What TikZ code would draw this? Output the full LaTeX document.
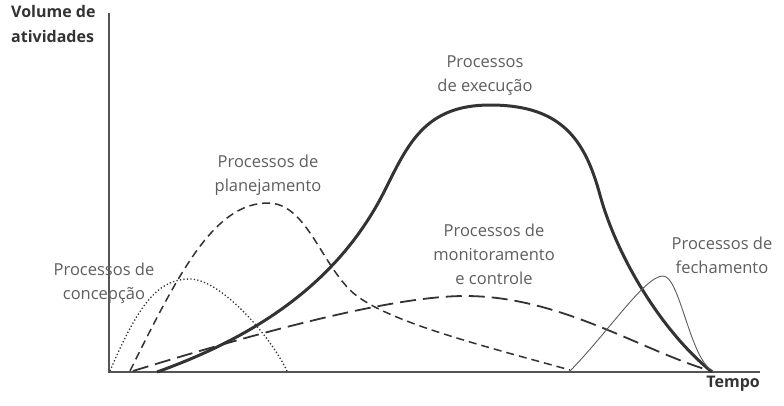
\documentclass[tikz,border=0pt]{standalone}
\usepackage{fontspec}
\setmainfont{Open Sans}
\definecolor{lbl}{HTML}{5E5E5E}
\definecolor{axc}{HTML}{555555}
\definecolor{crv}{HTML}{333333}
\begin{document}
\begin{tikzpicture}[x=1pt,y=-1pt,
  lab/.style={align=center,text=lbl,font=\fontsize{16.5}{24}\selectfont,inner sep=0pt},
  axlab/.style={align=left,text=crv,font=\bfseries\fontsize{16}{25}\selectfont,inner sep=0pt},
  axis/.style={draw=axc,line width=1.2pt},
  exec/.style={draw=crv,line width=3pt},
  plan/.style={draw=crv,line width=1.5pt,dash pattern=on 8pt off 5pt},
  mon/.style={draw=crv,line width=1.8pt,dash pattern=on 16pt off 7pt},
  conc/.style={draw=crv,line width=1.3pt,dash pattern=on 1.3pt off 2.2pt},
  fech/.style={draw=crv!80,line width=0.9pt}]
\useasboundingbox (0,0) rectangle (784,405);
% axes
\coordinate (O) at (109,372);
\coordinate (ytop) at (109,13);
\coordinate (xend) at (760,372);
\draw[axis] (ytop) -- (O) -- (xend);
\node[axlab,anchor=north west] (vol) at (11,5) {Volume de\\atividades};
\node[axlab,anchor=north east] (tempo) at (760,376) {Tempo};
% concepcao (dotted)
\draw[conc] (110,371) .. controls (140,300) and (160,279) .. (190,279)
  .. controls (220,279) and (270,335) .. (287,371);
% planejamento (short dashes)
\draw[plan] (130,371) .. controls (180,270) and (215,203) .. (268,203)
  .. controls (305,203) and (320,260) .. (350,290)
  .. controls (380,320) and (480,345) .. (570,370);
% monitoramento (long dashes)
\draw[mon] (133,371) .. controls (250,335) and (390,296) .. (465,296)
  .. controls (560,296) and (640,350) .. (711,371);
% execucao (thick)
\draw[exec] (157,372) .. controls (260,335) and (340,280) .. (385,190)
  .. controls (408,144) and (425,105) .. (490,105)
  .. controls (562,105) and (585,140) .. (600,195)
  .. controls (616,254) and (660,330) .. (712,372);
% fechamento (thin)
\draw[fech] (570,371) .. controls (610,330) and (645,276) .. (663,276)
  .. controls (680,276) and (690,360) .. (713,371);
% labels
\node[lab] (lconc) at (104,283) {Processos de\\concepção};
\node[lab] (lplan) at (268,175) {Processos de\\planejamento};
\node[lab] (lexec) at (485,76) {Processos\\de execução};
\node[lab] (lmon) at (494,254) {Processos de\\monitoramento\\e controle};
\node[lab] (lfech) at (722,255) {Processos de\\fechamento};
\end{tikzpicture}
\end{document}
